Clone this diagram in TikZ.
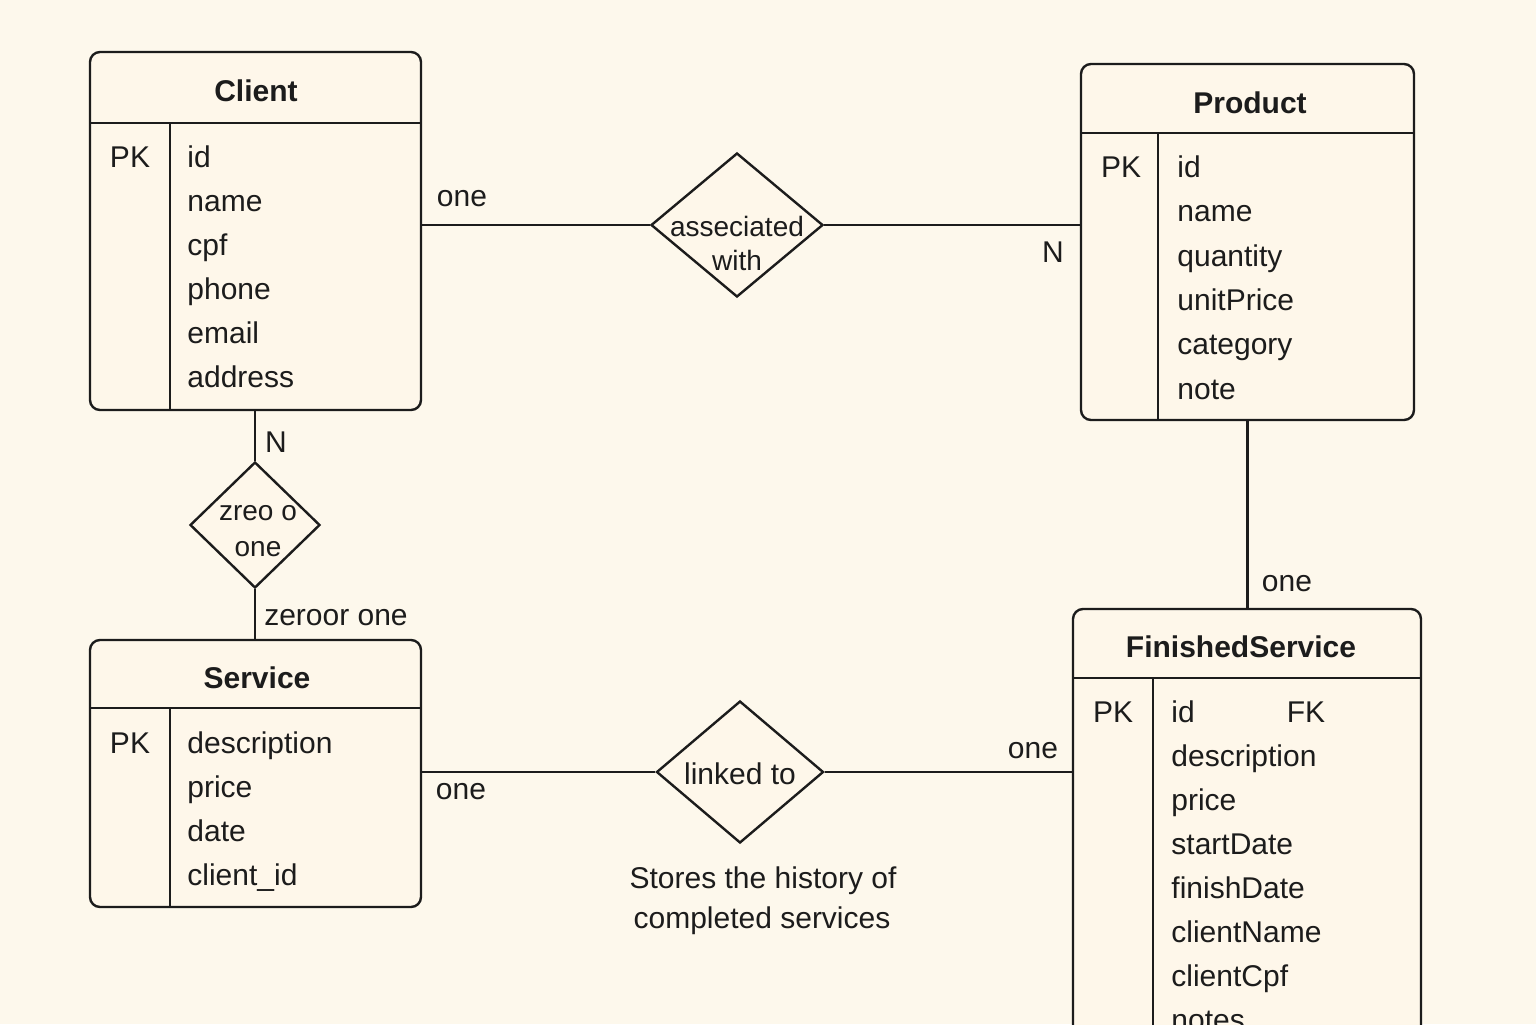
\documentclass[tikz,border=0pt]{standalone}
\usepackage{fontspec}
\setmainfont{Liberation Sans}
\usetikzlibrary{shapes.geometric}
\definecolor{bg}{HTML}{FDF8EC}
\definecolor{boxbg}{HTML}{FEF7EA}
\definecolor{ink}{HTML}{1C1C1C}
\tikzset{
  entity/.style={draw=ink, fill=boxbg, rectangle, rounded corners=5pt, inner sep=0pt, line width=1.2pt},
  rel/.style={draw=ink, fill=boxbg, diamond, inner sep=0pt, line width=1.2pt},
  attr/.style={anchor=base west, inner sep=0pt, text=ink, font=\fontsize{15pt}{18pt}\selectfont},
  ttl/.style={anchor=base, inner sep=0pt, text=ink, font=\bfseries\fontsize{15pt}{18pt}\selectfont},
  lbl/.style={anchor=base, inner sep=0pt, text=ink, font=\fontsize{15pt}{18pt}\selectfont},
  rlbl/.style={anchor=base, inner sep=0pt, text=ink, font=\fontsize{14pt}{17pt}\selectfont},
  conn/.style={draw=ink, line width=1.2pt},
  sep/.style={draw=ink, line width=1.2pt}
}
\begin{document}
\begin{tikzpicture}[x=0.5pt,y=-0.5pt]
\useasboundingbox (0,0) rectangle (1536,1024);
\fill[bg] (0,0) rectangle (1536,1024);
\clip (0,0) rectangle (1536,1024);

% Entities
\node[entity, minimum width=165.5pt, minimum height=179pt] (client) at (255.5,231) {};
\node[entity, minimum width=166.5pt, minimum height=178pt] (product) at (1247.5,242) {};
\node[entity, minimum width=165.5pt, minimum height=133.5pt] (service) at (255.5,773.5) {};
\node[entity, minimum width=174pt, minimum height=245.5pt] (fs) at (1247,854.5) {};

% Client internals
\draw[sep] (90,123) -- (421,123);
\draw[sep] (170,123) -- (170,410);
\node[ttl] (clientT) at (256,101) {Client};
\node[lbl] (clientPK) at (130,167) {PK};
\node[attr] (c1) at (187,167) {id};
\node[attr] (c2) at (187,211) {name};
\node[attr] (c3) at (187,255) {cpf};
\node[attr] (c4) at (187,299) {phone};
\node[attr] (c5) at (187,343) {email};
\node[attr] (c6) at (187,387) {address};

% Product internals
\draw[sep] (1081,133) -- (1414,133);
\draw[sep] (1158,133) -- (1158,420);
\node[ttl] (productT) at (1250,113) {Product};
\node[lbl] (productPK) at (1121,177) {PK};
\node[attr] (p1) at (1177,177) {id};
\node[attr] (p2) at (1177,221) {name};
\node[attr] (p3) at (1177,266) {quantity};
\node[attr] (p4) at (1177,310) {unitPrice};
\node[attr] (p5) at (1177,354) {category};
\node[attr] (p6) at (1177,399) {note};

% Service internals
\draw[sep] (90,708) -- (421,708);
\draw[sep] (170,708) -- (170,907);
\node[ttl] (serviceT) at (257,688) {Service};
\node[lbl] (servicePK) at (130,753) {PK};
\node[attr] (s1) at (187,753) {description};
\node[attr] (s2) at (187,797) {price};
\node[attr] (s3) at (187,841) {date};
\node[attr] (s4) at (187,885) {client\_id};

% FinishedService internals
\draw[sep] (1073,678) -- (1421,678);
\draw[sep] (1153,678) -- (1153,1100);
\node[ttl] (fsT) at (1241,657) {FinishedService};
\node[lbl] (fsPK) at (1113,722) {PK};
\node[attr] (f1) at (1171,722) {id};
\node[lbl] (fsFK) at (1306,722) {FK};
\node[attr] (f2) at (1171,766) {description};
\node[attr] (f3) at (1171,810) {price};
\node[attr] (f4) at (1171,854) {startDate};
\node[attr] (f5) at (1171,898) {finishDate};
\node[attr] (f6) at (1171,942) {clientName};
\node[attr] (f7) at (1171,986) {clientCpf};
\node[attr] (f8) at (1171,1030) {notes};

% Relationships
\node[rel, minimum width=86pt, minimum height=72pt] (assoc) at (737,225) {};
\node[rlbl] (assocA) at (737,236) {asseciated};
\node[rlbl] (assocB) at (737,270) {with};

\node[rel, minimum width=65pt, minimum height=63pt] (zo) at (255,525) {};
\node[rlbl] (zoA) at (258,520) {zreo o};
\node[rlbl] (zoB) at (258,556) {one};

\node[rel, minimum width=83.5pt, minimum height=71pt] (linked) at (740,772) {};
\node[lbl] (linkedA) at (740,784) {linked to};

% Connectors
\draw[conn] (client.east |- assoc.west) -- (assoc.west);
\draw[conn] (assoc.east) -- (product.west |- assoc.east);
\draw[conn] (client.south -| zo.north) -- (zo.north);
\draw[conn] (zo.south) -- (service.north -| zo.south);
\draw[conn] (product.south) -- (fs.north -| product.south);
\draw[conn] (service.east |- linked.west) -- (linked.west);
\draw[conn] (linked.east) -- (fs.west |- linked.east);

% Cardinality labels
\node[lbl] (l1) at (462,206) {one};
\node[lbl] (l2) at (1053,262) {N};
\node[lbl] (l3) at (276,452) {N};
\node[lbl] (l4) at (336,625) {zeroor one};
\node[lbl] (l5) at (1287,591) {one};
\node[lbl] (l6) at (461,799) {one};
\node[lbl] (l7) at (1033,758) {one};

% Note
\node[lbl] (note1) at (763,888) {Stores the history of};
\node[lbl] (note2) at (762,928) {completed services};
\end{tikzpicture}
\end{document}
